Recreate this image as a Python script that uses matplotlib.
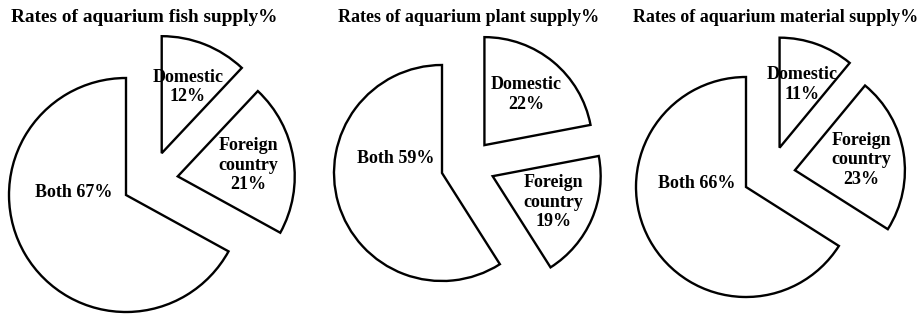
import numpy as np
import matplotlib
matplotlib.use("Agg")
import matplotlib.pyplot as plt

# ---- data ----
categories = ["Domestic", "Foreign\ncountry", "Both"]
fish_values = [12, 21, 67]
plant_values = [22, 19, 59]
material_values = [11, 23, 66]
titles = ["Rates of aquarium fish supply%",
          "Rates of aquarium plant supply%",
          "Rates of aquarium material supply%"]
exploded = [True, True, False]

# ---- layout (pixel units) ----
W, H = 921, 316
centers = [(126, 121), (442, 143), (746, 129)]
radii = [117, 108, 110]
title_x = [144, 469, 776]
title_sizes = [13.9, 13.0, 12.9]
title_y = 298
explode_frac = 0.47
label_frac_small = 0.61
label_frac_big = 0.45
big_label_shift = -33.0

plt.rcParams['font.family'] = ['Liberation Serif', 'DejaVu Serif']

fig = plt.figure(figsize=(W / 100, H / 100), dpi=100)
ax = fig.add_axes([0, 0, 1, 1])

series = [fish_values, plant_values, material_values]
for vals, (cx, cy), R, tx, ts, title in zip(series, centers, radii, title_x,
                                             title_sizes, titles):
    wedges, _ = ax.pie(vals, startangle=90, counterclock=False,
                       center=(cx, cy), radius=R, frame=True,
                       wedgeprops=dict(facecolor='white', edgecolor='black',
                                       linewidth=1.7, joinstyle='miter'))
    ex_w = [w for w, e in zip(wedges, exploded) if e]
    t1 = min(w.theta1 for w in ex_w)
    t2 = max(w.theta2 for w in ex_w)
    group_mid = (t1 + t2) / 2.0
    for w, cat, v, e in zip(wedges, categories, vals, exploded):
        mid = (w.theta1 + w.theta2) / 2.0
        if e:
            ang = np.deg2rad((mid + group_mid) / 2.0)
            ox, oy = cx + explode_frac * R * np.cos(ang), cy + explode_frac * R * np.sin(ang)
            w.set_center((ox, oy))
            la = np.deg2rad(mid)
            lx, ly = ox + label_frac_small * R * np.cos(la), oy + label_frac_small * R * np.sin(la)
            txt = f"{cat}\n{v}%"
        else:
            la = np.deg2rad(mid + big_label_shift)
            lx, ly = cx + label_frac_big * R * np.cos(la), cy + label_frac_big * R * np.sin(la)
            txt = f"{cat} {v}%"
        ax.text(lx, ly, txt, ha='center', va='center', fontsize=13,
                fontweight='bold', linespacing=1.2)
    ax.text(tx, title_y, title, ha='center', va='center', fontsize=ts,
            fontweight='bold')

ax.set_xlim(0, W)
ax.set_ylim(0, H)
ax.set_aspect('equal')
ax.axis('off')
fig.savefig("out.png", dpi=100)
